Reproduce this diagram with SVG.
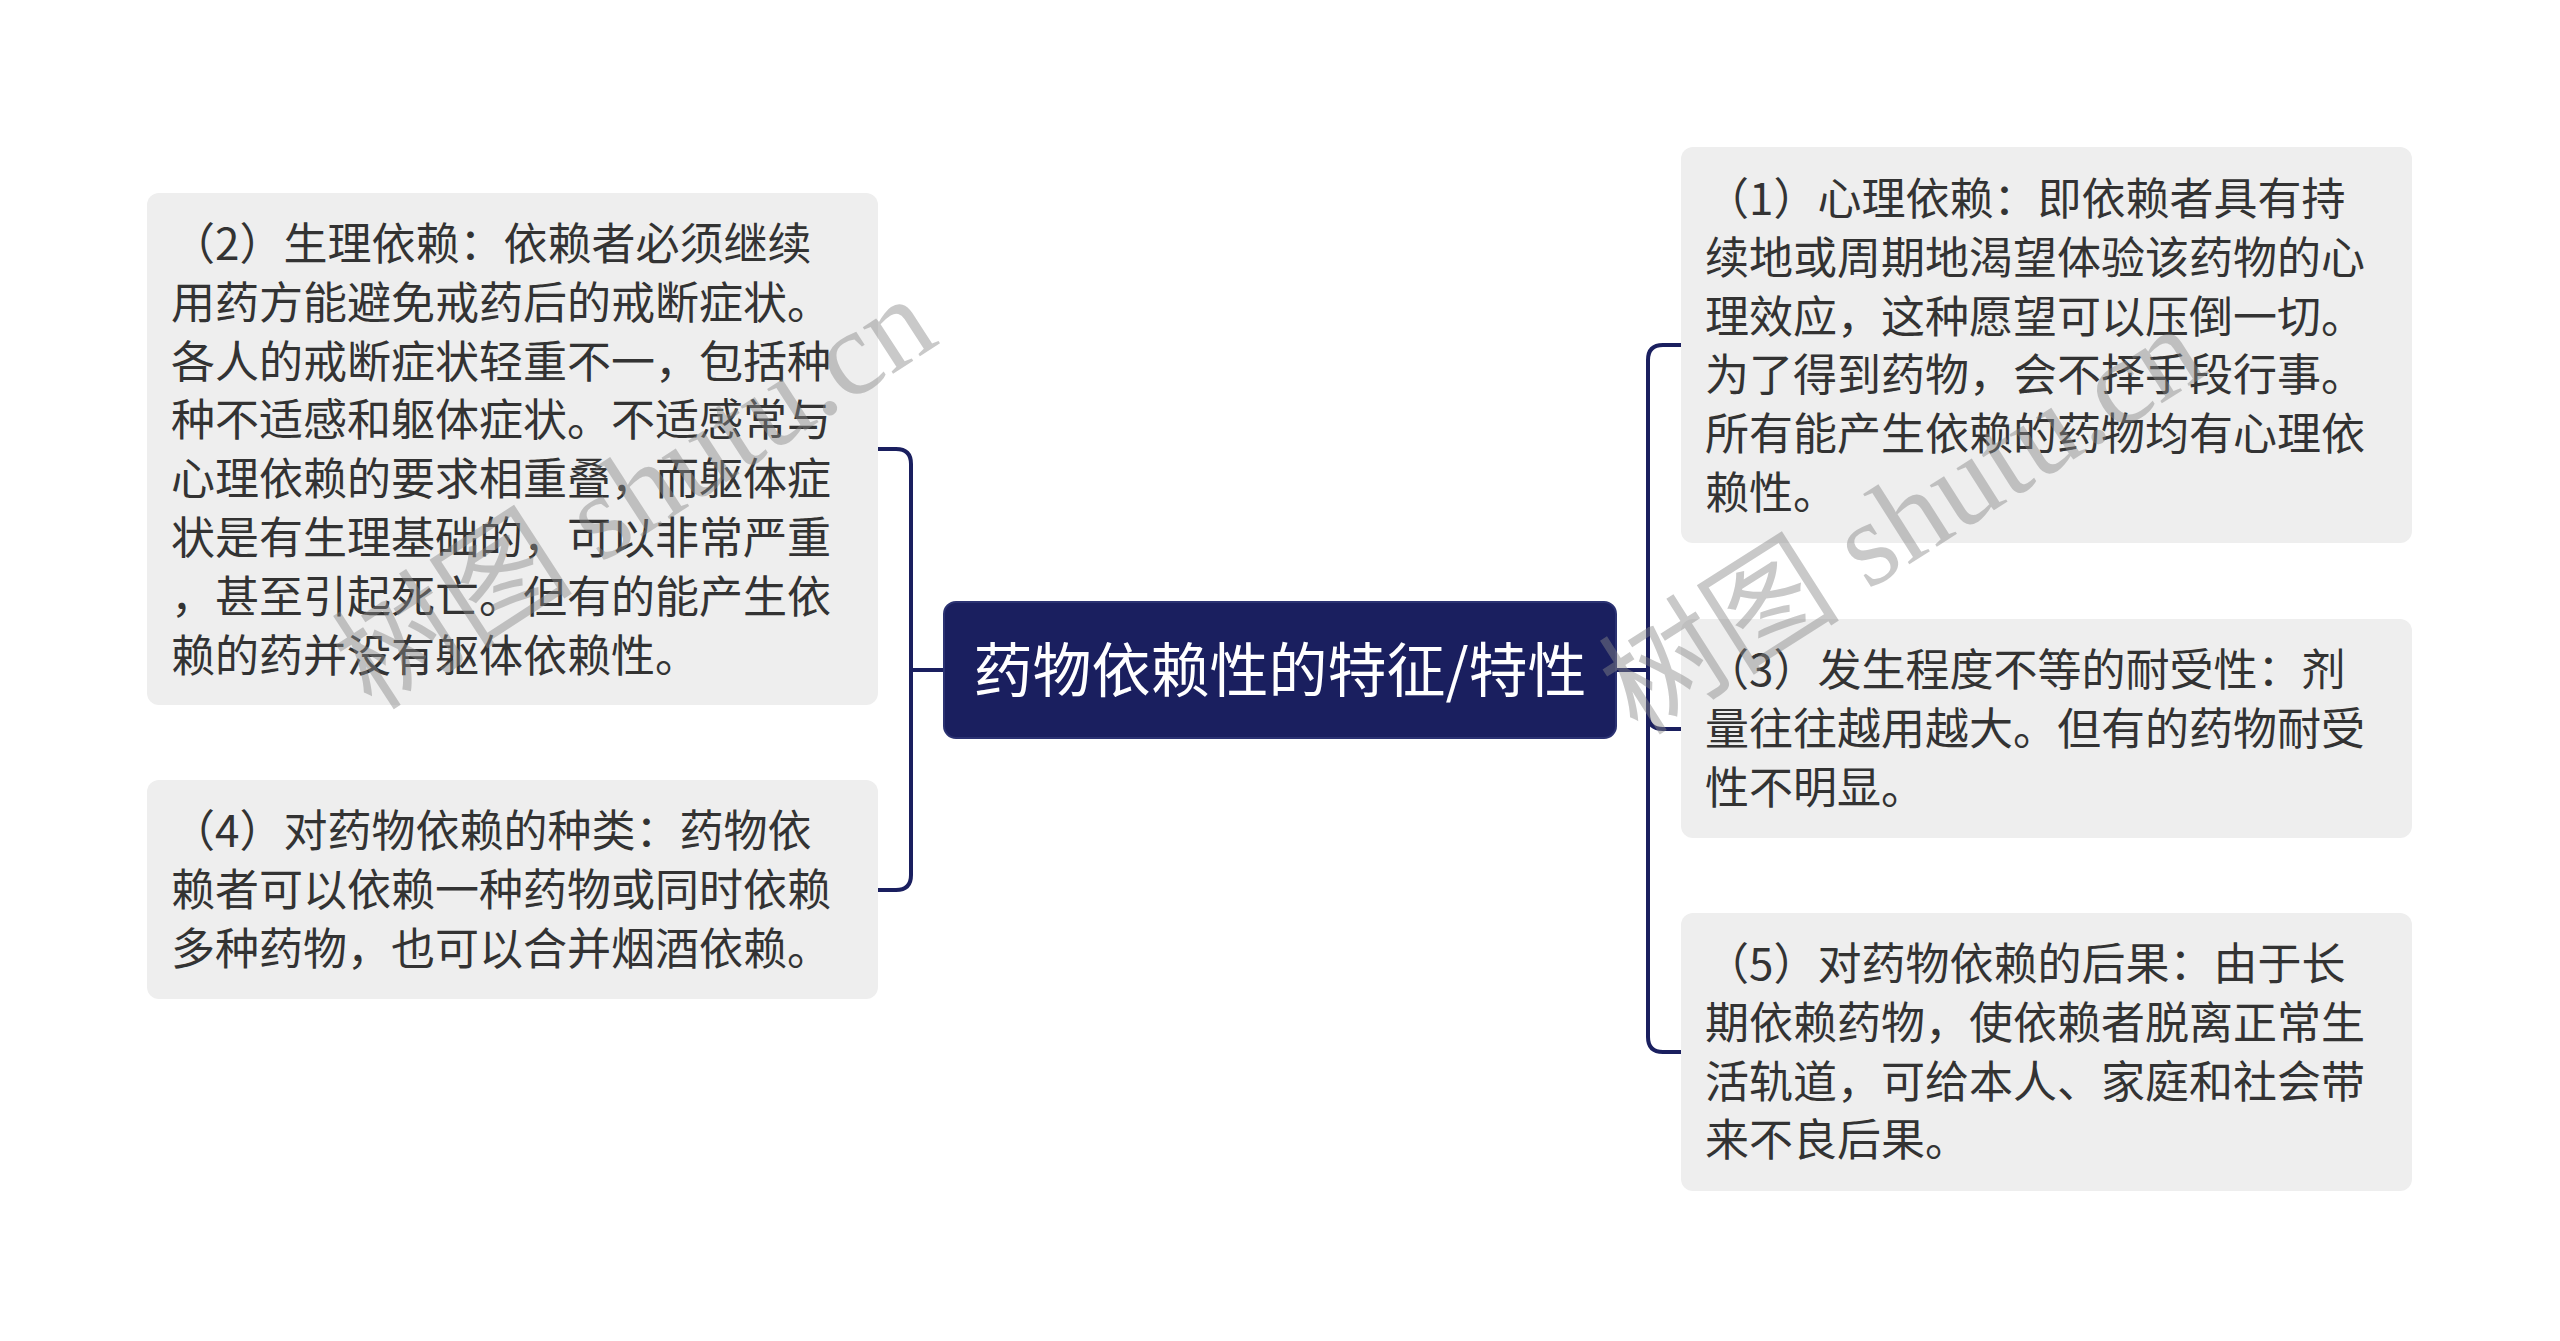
<svg xmlns="http://www.w3.org/2000/svg" width="2560" height="1341" viewBox="0 0 2560 1341">
<style>
.box{fill:#eeeeee}
.t{font-family:"Noto Sans CJK SC","Noto Sans",sans-serif;font-size:44px;fill:#333333}
.root{fill:#1a1f5f;stroke:#2b3272;stroke-width:2}
.rt{font-family:"Noto Sans CJK SC","Noto Sans",sans-serif;font-size:59px;fill:#ffffff;text-anchor:middle}
.c{fill:none;stroke:#1a1f5f;stroke-width:4}
.wm{font-family:"Liberation Serif","Noto Sans CJK SC",serif;font-size:121px;fill:#888888;opacity:0.45}
</style>
<rect width="2560" height="1341" fill="#ffffff"/>
<g id="connectors">
<path class="c" d="M944,670 H911 V464 Q911,449 896,449 H878"/>
<path class="c" d="M944,670 H911 V875 Q911,890 896,890 H878"/>
<path class="c" d="M1616,670 H1648 V360 Q1648,345 1663,345 H1681"/>
<path class="c" d="M1616,670 H1648 V714 Q1648,729 1663,729 H1681"/>
<path class="c" d="M1616,670 H1648 V1037 Q1648,1052 1663,1052 H1681"/>
</g>
<g id="root">
<rect class="root" x="944" y="602" width="672" height="136" rx="12"/>
<text class="rt" x="1280" y="692">药物依赖性的特征/特性</text>
</g>
<g id="n2">
<rect class="box" x="147" y="193" width="731" height="512" rx="12"/>
<text class="t" x="171"><tspan x="171" y="260">（2）生理依赖：依赖者必须继续</tspan><tspan x="171" y="318.8">用药方能避免戒药后的戒断症状。</tspan><tspan x="171" y="377.6">各人的戒断症状轻重不一，包括种</tspan><tspan x="171" y="436.4">种不适感和躯体症状。不适感常与</tspan><tspan x="171" y="495.2">心理依赖的要求相重叠，而躯体症</tspan><tspan x="171" y="554">状是有生理基础的，可以非常严重</tspan><tspan x="171" y="612.8">，甚至引起死亡。但有的能产生依</tspan><tspan x="171" y="671.6">赖的药并没有躯体依赖性。</tspan></text>
</g>
<g id="n4">
<rect class="box" x="147" y="780" width="731" height="219" rx="12"/>
<text class="t"><tspan x="171" y="847">（4）对药物依赖的种类：药物依</tspan><tspan x="171" y="905.8">赖者可以依赖一种药物或同时依赖</tspan><tspan x="171" y="964.6">多种药物，也可以合并烟酒依赖。</tspan></text>
</g>
<g id="n1">
<rect class="box" x="1681" y="147" width="731" height="396" rx="12"/>
<text class="t"><tspan x="1705" y="215">（1）心理依赖：即依赖者具有持</tspan><tspan x="1705" y="273.8">续地或周期地渴望体验该药物的心</tspan><tspan x="1705" y="332.6">理效应，这种愿望可以压倒一切。</tspan><tspan x="1705" y="391.4">为了得到药物，会不择手段行事。</tspan><tspan x="1705" y="450.2">所有能产生依赖的药物均有心理依</tspan><tspan x="1705" y="509">赖性。</tspan></text>
</g>
<g id="n3">
<rect class="box" x="1681" y="619" width="731" height="219" rx="12"/>
<text class="t"><tspan x="1705" y="686">（3）发生程度不等的耐受性：剂</tspan><tspan x="1705" y="744.8">量往往越用越大。但有的药物耐受</tspan><tspan x="1705" y="803.6">性不明显。</tspan></text>
</g>
<g id="n5">
<rect class="box" x="1681" y="913" width="731" height="278" rx="12"/>
<text class="t"><tspan x="1705" y="980">（5）对药物依赖的后果：由于长</tspan><tspan x="1705" y="1038.8">期依赖药物，使依赖者脱离正常生</tspan><tspan x="1705" y="1097.6">活轨道，可给本人、家庭和社会带</tspan><tspan x="1705" y="1156.4">来不良后果。</tspan></text>
</g>
<g id="watermarks">
<text class="wm" transform="translate(372,712) rotate(-33)">树图 shutu.cn</text>
<text class="wm" transform="translate(1638,737) rotate(-32.5)">树图 shutu.cn</text>
</g>
</svg>
